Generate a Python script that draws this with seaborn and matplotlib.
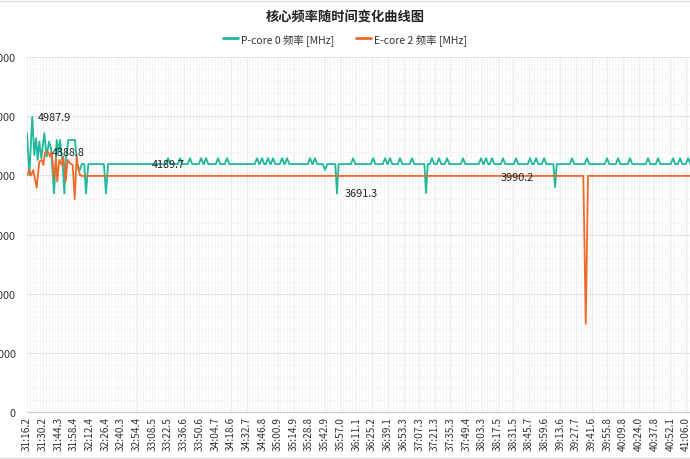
import matplotlib
matplotlib.use("Agg")
import matplotlib.pyplot as plt
import seaborn as sns
import pandas as pd
from matplotlib.ticker import MultipleLocator
from matplotlib.lines import Line2D

# x tick labels (mm:ss.s), one every ~14 s
tick_labels = [
    "31:16.2", "31:30.2", "31:44.3", "31:58.4", "32:12.4", "32:26.4", "32:40.3",
    "32:54.4", "33:08.5", "33:22.5", "33:36.6", "33:50.6", "34:04.7", "34:18.6",
    "34:32.7", "34:46.8", "35:00.9", "35:14.9", "35:28.8", "35:42.9", "35:57.0",
    "36:11.1", "36:25.2", "36:39.1", "36:53.3", "37:07.3", "37:21.3", "37:35.3",
    "37:49.4", "38:03.3", "38:17.5", "38:31.5", "38:45.7", "38:59.6", "39:13.6",
    "39:27.7", "39:41.6", "39:55.8", "40:09.8", "40:24.0", "40:37.8", "40:52.1",
    "41:06.0",
]

# P-core 0: (seconds since 31:16.2, MHz)
p_core = [
    (0.0, 4712), (2.1, 4005), (4.7, 4987.9), (6.5, 4344), (8.1, 4627),
    (9.6, 4260), (11.0, 4571), (12.8, 4288), (15.5, 4712), (17.6, 4316),
    (19.7, 4571), (21.5, 4458), (24.2, 3695), (26.6, 4599), (28.0, 4373),
    (29.5, 4599), (32.0, 4175), (33.4, 3695), (34.9, 4288), (37.0, 4599),
    (43.0, 4599), (45.0, 4175), (47.4, 4090), (49.0, 4190), (51.3, 4190),
    (52.8, 3695), (54.9, 4189.7), (68.8, 4189.7), (70.7, 3695), (72.6, 4189.7),
    (124.2, 4189.7), (126.2, 4290), (128.2, 4189.7),
    (135.0, 4189.7), (137.0, 4290), (139.0, 4189.7),
    (143.9, 4189.7), (145.9, 4290), (147.9, 4189.7),
    (153.8, 4189.7), (155.8, 4290), (157.8, 4189.7),
    (158.3, 4189.7), (160.3, 4290), (162.3, 4189.7),
    (169.0, 4189.7), (171.0, 4290), (173.0, 4189.7),
    (177.1, 4189.7), (179.1, 4290), (181.1, 4189.7),
    (203.9, 4189.7), (205.9, 4290), (207.9, 4189.7),
    (208.4, 4189.7), (210.4, 4290), (212.4, 4189.7),
    (213.8, 4189.7), (215.8, 4290), (217.8, 4189.7),
    (218.2, 4189.7), (220.2, 4290), (222.2, 4189.7),
    (226.3, 4189.7), (228.3, 4290), (230.3, 4189.7),
    (230.8, 4189.7), (232.8, 4290), (234.8, 4189.7),
    (251.4, 4189.7), (253.4, 4290), (255.4, 4189.7),
    (255.8, 4189.7), (257.8, 4290), (259.8, 4189.7),
    (264.8, 4189.7), (266.8, 4090), (268.8, 4189.7),
    (276.0, 4189.7), (277.5, 3691.3), (279.0, 4189.7),
    (289.9, 4189.7), (291.9, 4290), (293.9, 4189.7),
    (307.8, 4189.7), (309.8, 4290), (311.8, 4189.7),
    (318.5, 4189.7), (320.5, 4290), (322.5, 4189.7),
    (323.0, 4189.7), (325.0, 4290), (327.0, 4189.7),
    (331.9, 4189.7), (333.9, 4290), (335.9, 4189.7),
    (342.7, 4189.7), (344.7, 4290), (346.7, 4189.7),
    (355.7, 4189.7), (357.2, 3700), (358.7, 4189.7),
    (360.6, 4189.7), (362.6, 4290), (364.6, 4189.7),
    (366.8, 4189.7), (368.8, 4290), (370.8, 4189.7),
    (374.0, 4189.7), (376.0, 4290), (378.0, 4189.7),
    (388.3, 4189.7), (390.3, 4290), (392.3, 4189.7),
    (404.4, 4189.7), (406.4, 4290), (408.4, 4189.7),
    (408.9, 4189.7), (410.9, 4290), (412.9, 4189.7),
    (414.3, 4189.7), (416.3, 4290), (418.3, 4189.7),
    (424.1, 4189.7), (426.1, 4290), (428.1, 4189.7),
    (435.8, 4189.7), (437.8, 4290), (439.8, 4189.7),
    (448.3, 4189.7), (450.3, 4290), (452.3, 4189.7),
    (453.7, 4189.7), (455.7, 4290), (457.7, 4189.7),
    (460.9, 4189.7), (462.9, 4290), (464.9, 4189.7),
    (471.2, 4189.7), (472.7, 3800), (474.2, 4189.7),
    (485.9, 4189.7), (487.9, 4290), (489.9, 4189.7),
    (499.3, 4189.7), (501.3, 4290), (503.3, 4189.7),
    (517.2, 4189.7), (519.2, 4290), (521.2, 4189.7),
    (527.1, 4189.7), (529.1, 4290), (531.1, 4189.7),
    (537.8, 4189.7), (539.8, 4290), (541.8, 4189.7),
    (553.9, 4189.7), (555.9, 4290), (557.9, 4189.7),
    (562.9, 4189.7), (564.9, 4290), (566.9, 4189.7),
    (576.3, 4189.7), (578.3, 4290), (580.3, 4189.7),
    (582.6, 4189.7), (584.6, 4290), (586.6, 4189.7),
    (589.8, 4189.7), (591.8, 4290), (593.8, 4189.7),
]

# E-core 2: (seconds since 31:16.2, MHz)
e_core = [
    (0.0, 4005), (2.1, 4090), (3.6, 3995), (5.6, 4090), (8.7, 3791),
    (11.0, 4232), (13.2, 4260), (14.6, 4175), (16.1, 4388.8), (19.1, 4388.8),
    (20.6, 4316), (22.1, 4388), (24.2, 3949), (26.0, 4288), (27.1, 3893),
    (28.9, 4260), (31.1, 4175), (32.5, 4316), (34.6, 3893), (36.4, 4260),
    (38.5, 4203), (40.9, 4175), (42.7, 3598), (44.5, 4316), (45.9, 4119),
    (47.4, 4005), (49.0, 3990.2), (498.0, 3990.2), (500.2, 1491),
    (502.2, 3990.2), (594.0, 3990.2),
]

# value labels: (text, seconds, MHz) - left edge of the text
point_labels = [
    ("4987.9", 9.8, 4985),
    ("4388.8", 22.4, 4390),
    ("4189.7", 111.6, 4186),
    ("3691.3", 284.1, 3695),
    ("3990.2", 424.1, 3978),
]

P_COLOR = "#1fb99c"
E_COLOR = "#f0692a"

sns.set_style("white")
plt.rcParams["font.family"] = ["Noto Sans CJK SC", "DejaVu Sans"]


def to_sec(s):
    m, r = s.split(":")
    return int(m) * 60 + float(r)


t0 = to_sec(tick_labels[0])
tick_pos = [to_sec(s) - t0 for s in tick_labels]

p_df = pd.DataFrame(p_core, columns=["t", "mhz"])
e_df = pd.DataFrame(e_core, columns=["t", "mhz"])

fig = plt.figure(figsize=(6.9, 4.6), dpi=100)
ax = fig.add_axes([27 / 690, 1 - 413 / 460, 663 / 690, 355 / 460])

sns.lineplot(data=p_df, x="t", y="mhz", color=P_COLOR, lw=1.3, ax=ax,
             estimator=None, sort=False, legend=False)
sns.lineplot(data=e_df, x="t", y="mhz", color=E_COLOR, lw=1.3, ax=ax,
             estimator=None, sort=False, legend=False)

for txt, tx, ty in point_labels:
    ax.text(tx, ty, txt, ha="left", va="center", fontsize=7.8, color="#222222")

ax.set_xlim(0, 593.5)
ax.set_ylim(0, 6000)
ax.set_xticks(tick_pos)
ax.set_xticklabels(tick_labels, rotation=90, fontsize=7.3, color="#333333")
ax.set_yticks(range(0, 7000, 1000))
ax.set_yticklabels([str(v) for v in range(0, 7000, 1000)], fontsize=7.8, color="#333333")
ax.tick_params(axis="x", length=0, pad=3)
ax.tick_params(axis="y", length=0, pad=8)
ax.set_xlabel("")
ax.set_ylabel("")

ax.xaxis.set_minor_locator(MultipleLocator(2.8))
ax.yaxis.set_minor_locator(MultipleLocator(200))
ax.set_axisbelow(True)
ax.grid(which="minor", color="#f4f4f4", lw=0.6)
ax.grid(which="major", axis="x", color="#eeeeee", lw=0.6)
ax.grid(which="major", axis="y", color="#e3e3e3", lw=0.8)

for side in ["top", "right", "left"]:
    ax.spines[side].set_visible(False)
ax.spines["bottom"].set_color("#cccccc")

fig.text(0.5, 1 - 17 / 460, "核心频率随时间变化曲线图", ha="center", va="center",
         fontsize=9.5, fontweight="bold", color="#222222")

handles = [
    Line2D([], [], color=P_COLOR, lw=2, label="P-core 0 频率 [MHz]"),
    Line2D([], [], color=E_COLOR, lw=2, label="E-core 2 频率 [MHz]"),
]
fig.legend(handles=handles, loc="center", bbox_to_anchor=(0.5, 1 - 40 / 460),
           ncol=2, frameon=False, fontsize=7.5, handlelength=1.5,
           handletextpad=0.3, columnspacing=2.0, labelcolor="#333333")

# thin frame lines at the top and bottom of the picture
fig.add_artist(Line2D([0, 1], [1 - 1.5 / 460] * 2, color="#dddddd", lw=1,
                      transform=fig.transFigure))
fig.add_artist(Line2D([0, 1], [1.5 / 460] * 2, color="#dddddd", lw=1,
                      transform=fig.transFigure))

fig.savefig("out.png", dpi=100)
